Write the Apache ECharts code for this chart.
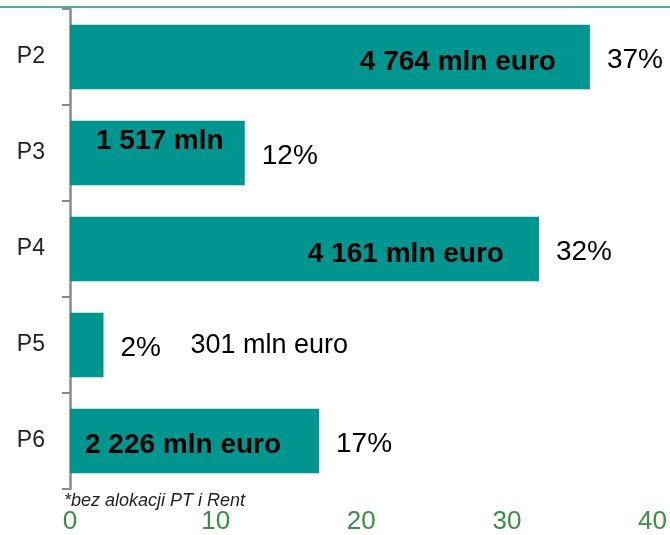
<!DOCTYPE html>
<html>
<head>
<meta charset="utf-8">
<script src="https://cdn.jsdelivr.net/npm/echarts@6/dist/echarts.min.js"></script>
<style>
html, body { margin: 0; padding: 0; background: #fff; }
#main { width: 670px; height: 535px; }
</style>
</head>
<body>
<div id="main"></div>
<script>
// dane
var categories = ['P2', 'P3', 'P4', 'P5', 'P6'];
var shares = [35.7, 12.0, 32.2, 2.3, 17.1];
var amountLabels = ['4 764 mln euro', '1 517 mln', '4 161 mln euro', '301 mln euro', '2 226 mln euro'];
var pctLabels = ['37%', '12%', '32%', '2%', '17%'];
var xTicks = [0, 10, 20, 30, 40];

var barColor = '#00968f';

// ustawienie etykiet kwot (kazdy slupek troche inaczej)
var amountStyle = [
	{ position: 'insideRight', distance: 34, offset: [0, 5] },
	{ position: 'insideLeft', distance: 26, offset: [0, -12] },
	{ position: 'insideRight', distance: 35, offset: [0, 5] },
	{ position: 'right', distance: 87, offset: [0, 1], plain: true },
	{ position: 'insideLeft', distance: 15, offset: [0, 4] }
];

var barData = [];
var pctData = [];
for (var i = 0; i < categories.length; i++) {
	var s = amountStyle[i];
	var lab = {
		position: s.position,
		distance: s.distance,
		offset: s.offset,
		formatter: amountLabels[i]
	};
	if (s.plain) {
		lab.fontWeight = 'normal';
		lab.fontSize = 27;
	}
	barData.push({ value: shares[i], label: lab });
	pctData.push({
		value: shares[i],
		label: { formatter: pctLabels[i] }
	});
}

var myChart = echarts.init(document.getElementById('main'));
var option = {
	animation: false,
	grid: {
		left: 70,
		right: 16,
		top: 9,
		bottom: 45
	},
	xAxis: {
		type: 'value',
		min: xTicks[0],
		max: xTicks[xTicks.length - 1],
		interval: 10,
		axisLine: { show: false },
		axisTick: { show: false },
		splitLine: { show: false },
		axisLabel: {
			margin: 20,
			color: '#3d8c47',
			fontSize: 26,
			fontFamily: 'Liberation Sans'
		}
	},
	yAxis: {
		type: 'category',
		inverse: true,
		data: categories,
		axisLine: { show: true, lineStyle: { color: '#8a8a8a', width: 2.5 } },
		axisTick: { show: true, length: 8, lineStyle: { color: '#8a8a8a', width: 2 } },
		axisLabel: {
			margin: 25,
			color: '#222',
			fontSize: 23,
			fontFamily: 'Liberation Sans'
		}
	},
	graphic: [{
		type: 'line',
		shape: { x1: 0, y1: 7, x2: 670, y2: 7 },
		style: { stroke: '#1b8a8a', lineWidth: 1.5 }
	}, {
		type: 'text',
		left: 64,
		top: 492,
		style: {
			text: '*bez alokacji PT i Rent',
			fill: '#222',
			font: 'italic 18px "Liberation Sans"'
		}
	}],
	series: [{
		type: 'bar',
		data: barData,
		barCategoryGap: '33%',
		itemStyle: { color: barColor },
		label: {
			show: true,
			color: '#000',
			fontSize: 28,
			fontWeight: 'bold',
			fontFamily: 'Liberation Sans'
		},
		z: 2
	}, {
		type: 'bar',
		data: pctData,
		barCategoryGap: '33%',
		barGap: '-100%',
		itemStyle: { color: 'rgba(0,0,0,0)' },
		label: {
			show: true,
			position: 'right',
			distance: 17,
			offset: [0, 3],
			color: '#000',
			fontSize: 28,
			fontFamily: 'Liberation Sans'
		},
		z: 3
	}]
};
myChart.setOption(option);
</script>
</body>
</html>
